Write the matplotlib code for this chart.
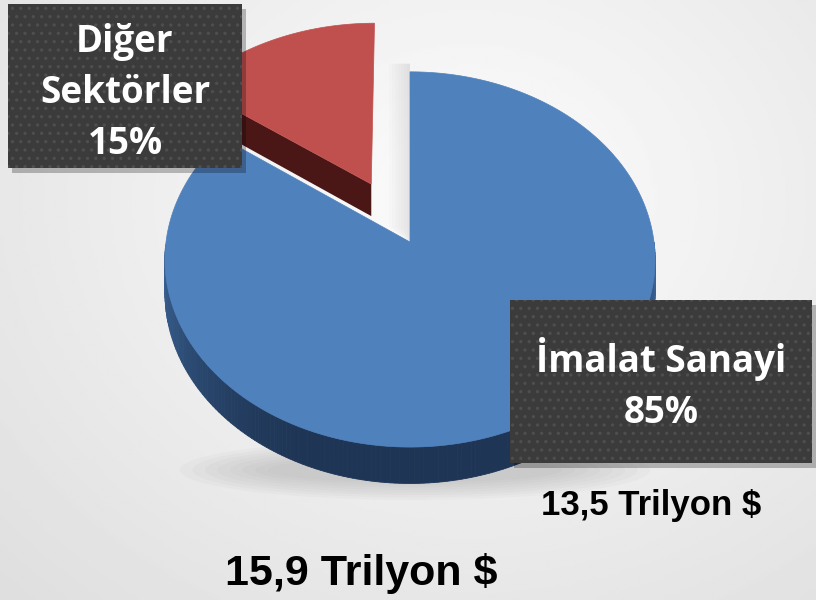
import numpy as np
import matplotlib.pyplot as plt
from matplotlib.patches import Polygon, Rectangle, Ellipse
from matplotlib.colors import to_rgb

# data
labels = ['İmalat Sanayi', 'Diğer Sektörler']
shares = [85, 15]
amount_imalat = 13.5   # trilyon $
amount_total = 15.9    # trilyon $
slice_colors = ['#4f81bd', '#c0504d']
side_colors = [('#3d6699', '#1e3555'), ('#6b2624', '#4a1716')]

# geometry of the fake 3d pie (pixel space)
cx, cy = 410, 242
rx, ry = 244, 186
k = 0.093          # perspective
depth = 33
explode = 0.36


def proj(x, y, z=0.0):
    w = 1 + k * y
    return cx + rx * x / w, cy + (-ry * y + depth * z) / w


def fmt(v):
    return f'{v:.1f}'.replace('.', ',') + ' Trilyon $'


fig = plt.figure(figsize=(8.16, 6), dpi=100)
ax = fig.add_axes([0, 0, 1, 1])
ax.set_xlim(0, 816)
ax.set_ylim(600, 0)
ax.axis('off')

# background radial gradient
gx, gy = np.meshgrid(np.linspace(0, 816, 300), np.linspace(0, 600, 220))
rr = np.sqrt(((gx - 470) / 620) ** 2 + ((gy - 200) / 520) ** 2)
shade = np.clip(0.99 - 0.11 * rr, 0.86, 1)
ax.imshow(shade, cmap='gray', vmin=0, vmax=1, extent=(0, 816, 600, 0), zorder=0)

# soft shadow under the pie
for i in range(8):
    ax.add_patch(Ellipse((415, 470), 470 - i * 25, 60 - i * 5, color='#9a9a9a',
                         alpha=0.06, lw=0, zorder=1))

# angles: red (Diğer) counter-clockwise from 12 o'clock, blue takes the rest
red_span = 360 * shares[1] / sum(shares)
ranges = {1: (90, 90 + red_span), 0: (90 + red_span, 450)}

# faint shadow in the gap left of the blue slice's 12 o'clock edge
ex_top = proj(0, 1)
for i in range(8):
    ax.add_patch(Polygon([(cx - 3 * i, ex_top[1] - 8), (cx, ex_top[1] - 8), (cx, cy),
                          (cx - 3 * i, cy - 15)], closed=True, color='#9a9a9a',
                         alpha=0.03, lw=0, zorder=1.5))

for idx in [1, 0]:
    a0, a1 = ranges[idx]
    t = np.radians(np.linspace(a0, a1, 300))
    ox, oy = 0.0, 0.0
    if idx == 1:
        mid = np.radians((a0 + a1) / 2)
        ox, oy = explode * np.cos(mid), explode * np.sin(mid)
    xs, ys = ox + np.cos(t), oy + np.sin(t)

    # outer side (front half only)
    front = np.sin(t) < 0
    if front.any():
        ft = t[front]
        c0, c1 = np.array(to_rgb(side_colors[idx][0])), np.array(to_rgb(side_colors[idx][1]))
        for j in range(len(ft) - 1):
            tt = ft[j:j + 2]
            px, py = ox + np.cos(tt), oy + np.sin(tt)
            top = [proj(a, b) for a, b in zip(px, py)]
            bot = [proj(a, b, 1) for a, b in zip(px, py)][::-1]
            f = min(1, abs(np.sin(tt[0])) * 1.1)
            ax.add_patch(Polygon(top + bot, closed=True, color=c0 * (1 - f) + c1 * f,
                                 lw=0.6, zorder=2))

    # radial cut face facing the viewer (end edge of the exploded slice)
    if idx == 1:
        ex, ey = ox + np.cos(t[-1]), oy + np.sin(t[-1])
        face = [proj(ox, oy), proj(ex, ey), proj(ex, ey, 1), proj(ox, oy, 1)]
        ax.add_patch(Polygon(face, closed=True, color=side_colors[1][1], lw=0, zorder=2))

    top_pts = [proj(ox, oy)] + [proj(a, b) for a, b in zip(xs, ys)]
    ax.add_patch(Polygon(top_pts, closed=True, facecolor=slice_colors[idx],
                         edgecolor=slice_colors[idx], lw=0.5, zorder=3))

# label boxes
plt.rcParams['hatch.linewidth'] = 1.2
boxes = [(510, 300, 302, 163), (8, 4, 234, 164)]
texts = [f'{labels[0]}\n{shares[0]}%', labels[1].replace(' ', '\n') + f'\n{shares[1]}%']
offsets = [3, 7]
for (x0, y0, w, h), s, dy in zip(boxes, texts, offsets):
    ax.add_patch(Rectangle((x0 + 4, y0 + 5), w, h, color='#000000', alpha=0.25, lw=0, zorder=4))
    ax.add_patch(Rectangle((x0, y0), w, h, facecolor='#3b3b3b', lw=0, zorder=5))
    ax.add_patch(Rectangle((x0, y0), w, h, facecolor='none', edgecolor='#4e4e4e',
                           hatch='..', lw=0, zorder=5))
    ax.text(x0 + w / 2, y0 + h / 2 + dy, s, ha='center', va='center', color='white',
            fontsize=26.5, fontweight='bold', family=['Open Sans', 'DejaVu Sans'],
            linespacing=1.44, zorder=6)

arial = ['Liberation Sans', 'DejaVu Sans']
ax.text(651, 515, fmt(amount_imalat), ha='center', va='baseline', fontsize=25,
        fontweight='bold', family=arial, color='black', zorder=6)
ax.text(361, 585, fmt(amount_total), ha='center', va='baseline', fontsize=31,
        fontweight='bold', family=arial, color='black', zorder=6)

fig.savefig('out.png', dpi=100)
